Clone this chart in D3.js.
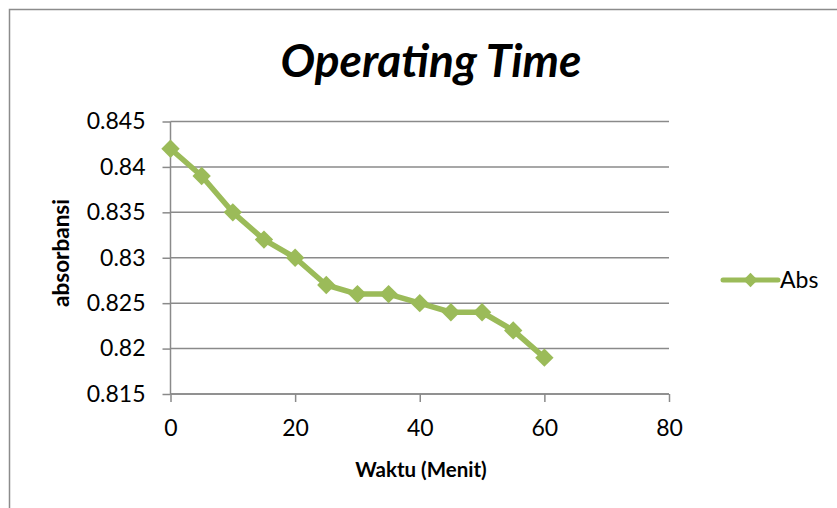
<!DOCTYPE html>
<html><head><meta charset="utf-8">
<script src="https://cdn.jsdelivr.net/npm/d3@7"></script>
<style>body{margin:0;background:#fff}svg{display:block}</style>
</head><body>
<script>
const minutes = [0,5,10,15,20,25,30,35,40,45,50,55,60];
const absValues = [0.842,0.839,0.835,0.832,0.830,0.827,0.826,0.826,0.825,0.824,0.824,0.822,0.819];
const xTicks = [0,20,40,60,80];
const yTicks = [0.815,0.82,0.825,0.83,0.835,0.84,0.845];
const seriesName = "Abs";
const title = "Operating Time";
const xTitle = "Waktu (Menit)";
const yTitle = "absorbansi";

const W=837,H=508;
const font = "Lato, 'Open Sans', sans-serif";
const svg=d3.select("body").append("svg").attr("width",W).attr("height",H);
svg.append("rect").attr("width",W).attr("height",H).attr("fill","#fff");
svg.append("path").attr("d","M9.5,508 L9.5,9.5 L837,9.5").attr("fill","none").attr("stroke","#8c8c8c").attr("stroke-width",1.5);

const x=d3.scaleLinear().domain([0,80]).range([170.5,669]);
const y=d3.scaleLinear().domain([0.815,0.845]).range([394,121.5]);
const grid="#8a8a8a";

const g=svg.append("g");
g.selectAll("line.grid").data(yTicks).join("line")
 .attr("x1",x(0)).attr("x2",x(80)).attr("y1",d=>y(d)).attr("y2",d=>y(d))
 .attr("stroke",grid).attr("stroke-width",1.5);

const yAxis=g.append("g").attr("transform",`translate(${x(0)},0)`)
 .call(d3.axisLeft(y).tickValues(yTicks).tickSize(8).tickPadding(17).tickFormat(d=>d3.format("")(+d.toFixed(3))));
const xAxis=g.append("g").attr("transform",`translate(0,${y(0.815)})`)
 .call(d3.axisBottom(x).tickValues(xTicks).tickSize(8).tickPadding(18));
[yAxis,xAxis].forEach(a=>{
  a.selectAll("path,line").attr("stroke",grid).attr("stroke-width",1.5);
  a.select(".domain").attr("d", a===yAxis? `M0,${y(0.845)}V${y(0.815)}` : `M${x(0)},0H${x(80)}`);
  a.selectAll("text").attr("font-family",font).attr("font-size",23).attr("fill","#000");
});

const green="#9bbb59";
const line=d3.line().x((d,i)=>x(minutes[i])).y(d=>y(d));
g.append("path").datum(absValues).attr("d",line).attr("fill","none")
 .attr("stroke",green).attr("stroke-width",5.5).attr("stroke-linejoin","round");
const diamond=d3.symbol().type(d3.symbolDiamond2).size(215);
g.selectAll("path.pt").data(absValues).join("path")
 .attr("transform",(d,i)=>`translate(${x(minutes[i])},${y(d)})`)
 .attr("d",diamond).attr("fill",green);

svg.append("text").attr("x",431).attr("y",77).attr("text-anchor","middle")
 .attr("font-family",font).attr("font-weight","bold").attr("font-style","italic")
 .attr("font-size",46).text(title);
svg.append("text").attr("x",421).attr("y",477).attr("text-anchor","middle")
 .attr("font-family",font).attr("font-weight","bold").attr("font-size",20.5).text(xTitle);
svg.append("text").attr("transform","translate(69,253) rotate(-90)").attr("text-anchor","middle")
 .attr("font-family",font).attr("font-weight","bold").attr("font-size",22.5).text(yTitle);

const lg=svg.append("g");
lg.append("line").attr("x1",723).attr("x2",778).attr("y1",280).attr("y2",280)
 .attr("stroke",green).attr("stroke-width",5).attr("stroke-linecap","round");
lg.append("path").attr("transform","translate(750.5,280)").attr("d",d3.symbol().type(d3.symbolDiamond2).size(130)).attr("fill",green);
lg.append("text").attr("x",780).attr("y",288).attr("font-family",font).attr("font-size",23).text(seriesName);
</script>
</body></html>
